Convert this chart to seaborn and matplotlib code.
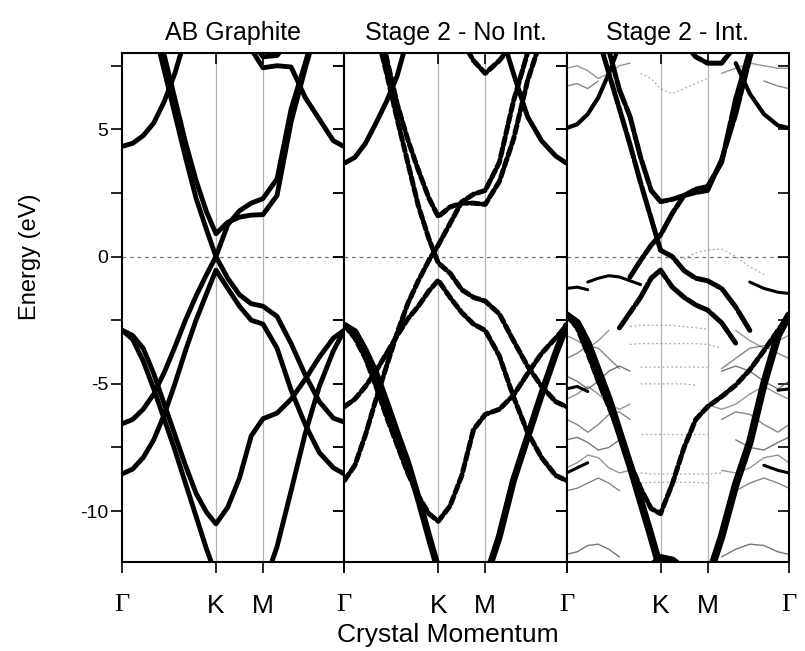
import numpy as np
import pandas as pd
import seaborn as sns
import matplotlib.pyplot as plt

nan = np.nan

# k-path sampling (units of pi/a): Gamma - K - M - Gamma
K_GRID = [0.0, 0.15, 0.3, 0.45, 0.6, 0.75, 0.9, 1.05, 1.2, 1.333,
          1.5, 1.667, 1.833, 2.0, 2.2, 2.4, 2.6, 2.8, 3.0, 3.155]
TICK_POS = [0.0, 1.333, 2.0, 3.155]
TICK_LABELS = ['Γ', 'K', 'M', 'Γ']
TITLES = ['AB Graphite', 'Stage 2 - No Int.', 'Stage 2 - Int.']

# ---- AB graphite (eV) ----
AB_PI_A = [-6.57, -6.4, -6.0, -5.4, -4.55, -3.55, -2.5, -1.55, -0.7, 0.0,
           -0.85, -1.5, -1.85, -1.95, -2.35, -3.42, -4.65, -5.7, -6.35, -6.5]
AB_PI_B = [-8.54, -8.35, -7.9, -7.2, -6.2, -5.0, -3.7, -2.5, -1.45, -0.53,
           -1.25, -1.95, -2.5, -2.65, -3.6, -5.25, -6.6, -7.7, -8.3, -8.54]
AB_PIS_A = [12.0, 11.5, 10.5, 9.0, 7.3, 5.6, 3.9, 2.3, 1.05, 0.0,
            1.25, 1.8, 2.1, 2.28, 3.05, 5.8, 7.6, 9.5, 11.0, 11.5]
AB_PIS_B = [12.5, 12.0, 11.0, 9.6, 7.9, 6.2, 4.5, 3.0, 1.75, 0.9,
            1.35, 1.55, 1.63, 1.65, 2.4, 5.3, 7.4, 9.3, 10.8, 11.3]
AB_PARA_L = [4.33, 4.45, 4.75, 5.25, 6.1, 7.2, 8.6, 10.0, nan, nan,
             nan, nan, nan, nan, nan, nan, nan, nan, nan, nan]
AB_PARA_R = [nan, nan, nan, nan, nan, nan, nan, nan, nan, nan,
             nan, 9.4, 8.15, 7.42, 7.5, 7.45, 6.25, 5.4, 4.55, 4.32]
AB_TOP = [nan, nan, nan, nan, nan, nan, nan, nan, nan, nan,
          nan, nan, 8.5, 7.85, 7.9, 8.6, nan, nan, nan, nan]
AB_SIG_A = [-2.89, -3.25, -4.1, -5.2, -6.4, -7.6, -8.9, -10.2, -11.5, -12.5,
            -13.2, -13.5, -13.4, -13.0, -11.4, -9.2, -6.95, -5.1, -3.7, -2.89]
AB_SIG_B = [-2.89, -3.1, -3.6, -4.6, -5.8, -7.0, -8.2, -9.3, -10.05, -10.5,
            -9.85, -8.7, -7.05, -6.37, -6.15, -5.6, -4.82, -3.95, -3.2, -2.89]

# ---- Stage 2, no interaction ----
P2_B1 = [12.0, 11.2, 10.2, 8.9, 7.2, 5.4, 3.7, 2.0, 0.7, -0.25,
         -0.65, -1.3, -1.6, -1.75, -2.25, -3.3, -4.3, -5.1, -5.7, -5.9]
P2_B2 = [-8.8, -8.2, -7.0, -5.6, -4.3, -3.0, -1.85, -0.95, -0.15, 0.45,
         1.3, 2.15, 2.45, 2.6, 3.7, 6.1, 8.0, 9.8, 11.0, 11.5]
P2_V_UP = [12.8, 12.2, 11.2, 9.9, 7.8, 6.0, 4.6, 3.4, 2.3, 1.57,
           1.95, 2.1, 2.1, 2.05, 2.95, 4.6, 6.9, 8.6, 10.0, 11.0]
P2_V_DN = [-5.9, -5.6, -5.1, -4.5, -3.8, -3.1, -2.45, -1.95, -1.35, -0.93,
           -1.6, -2.2, -2.65, -2.9, -3.9, -5.5, -6.9, -7.9, -8.6, -8.8]
P2_PARA_L = [3.67, 3.9, 4.45, 5.25, 6.1, 7.1, 8.6, 10.2, nan, nan,
             nan, nan, nan, nan, nan, nan, nan, nan, nan, nan]
P2_PARA_R = [nan, nan, nan, nan, nan, nan, nan, nan, nan, nan,
             nan, nan, nan, nan, 9.0, 7.2, 5.5, 4.55, 3.95, 3.67]
P2_TOP = [nan, nan, nan, nan, nan, nan, nan, nan, nan, nan,
          nan, 8.5, 7.7, 7.2, 7.7, 8.4, nan, nan, nan, nan]
P2_SIG_A = [-2.7, -2.95, -3.7, -4.6, -5.75, -6.95, -8.1, -9.5, -11.0, -12.3,
            -13.0, -13.3, -13.2, -12.7, -11.0, -8.8, -7.1, -5.4, -3.8, -2.7]
P2_SIG_B = [-2.7, -3.2, -4.0, -5.1, -6.3, -7.4, -8.5, -9.4, -10.1, -10.4,
            -9.8, -8.6, -6.8, -6.2, -6.0, -5.45, -4.6, -3.8, -3.2, -2.7]

# ---- Stage 2, with interaction ----
P3_B1 = [12.0, 11.2, 10.0, 8.6, 7.2, 5.8, 4.4, 2.9, 1.5, 0.25,
         0.0, -0.55, -0.85, -0.95, -1.25, -1.98, -2.9, nan, nan, nan]
P3_B2 = [nan, nan, nan, nan, nan, nan, -0.8, -0.15, 0.45, 0.85,
         1.7, 2.4, 2.65, 2.75, 3.7, 6.2, 8.1, 9.8, 11.0, 11.5]
P3_V_UP = [13.5, 12.8, 11.8, 10.0, 8.1, 6.55, 5.5, 3.9, 2.6, 2.16,
           2.25, 2.4, 2.52, 2.6, 3.8, 5.6, 7.8, 9.6, 10.8, 11.2]
P3_V_DN = [nan, nan, nan, nan, nan, -2.8, -2.2, -1.6, -0.85, -0.53,
           -1.2, -1.6, -1.9, -2.1, -2.6, -3.4, nan, nan, nan, nan]
P3_PARA_L = [5.05, 5.2, 5.6, 6.25, 7.2, 8.3, nan, nan, nan, nan,
             nan, nan, nan, nan, nan, nan, nan, nan, nan, nan]
P3_PARA_R = [nan, nan, nan, nan, nan, nan, nan, nan, nan, nan,
             nan, nan, nan, nan, nan, 7.6, 6.4, 5.6, 5.15, 5.05]
P3_TOP = [nan, nan, nan, nan, nan, nan, nan, nan, nan, nan,
          nan, 8.4, 7.85, 7.6, 7.6, 8.3, nan, nan, nan, nan]
P3_SIG_A = [-2.3, -2.6, -3.4, -4.5, -5.6, -6.9, -8.2, -9.6, -11.0, -12.3,
            -13.0, -13.3, -13.2, -12.7, -11.0, -8.95, -7.3, -5.0, -3.1, -2.3]
P3_SIG_B = [-2.3, -2.8, -3.8, -4.9, -5.9, -6.95, -8.1, -9.1, -9.9, -10.1,
            -8.93, -7.5, -6.4, -5.9, -5.5, -5.05, -4.45, -3.7, -2.9, -2.3]
P3_LOW = [nan, nan, nan, nan, nan, nan, nan, nan, -12.2, -11.85,
          -11.95, -12.3, nan, nan, nan, nan, nan, nan, nan, nan]
P3_DARK = [
    [nan, nan, -1.0, -0.85, -0.75, -0.8, -0.95, -1.1, nan, nan,
     nan, nan, nan, nan, nan, nan, nan, nan, nan, nan],
    [-1.25, -1.2, -1.3, nan, nan, nan, nan, nan, nan, nan,
     nan, nan, nan, nan, nan, nan, nan, nan, nan, nan],
    [nan, nan, nan, nan, nan, nan, nan, nan, nan, nan,
     nan, nan, nan, nan, nan, nan, -1.0, -1.25, -1.4, -1.45],
    [-5.2, -5.1, -5.3, nan, nan, nan, nan, nan, nan, nan,
     nan, nan, nan, nan, nan, nan, nan, nan, -5.25, -5.2],
    [-8.5, -8.3, -8.1, nan, nan, nan, nan, nan, nan, nan,
     nan, nan, nan, nan, nan, nan, nan, -8.2, -8.4, -8.5],
]

# faint intercalant-derived bands, wavy near Gamma
P3_EDGE = [
    [-3.1, -3.3, -3.6, -3.3, -2.9, nan, nan, nan, nan, nan,
     nan, nan, nan, nan, nan, -2.9, -3.3, -3.6, -3.3, -3.1],
    [-4.0, -3.8, -3.5, -3.6, -4.0, -4.4, nan, nan, nan, nan,
     nan, nan, nan, nan, -4.4, -4.0, -3.6, -3.5, -3.8, -4.0],
    [-4.7, -4.9, -5.2, -4.9, -4.5, -4.3, -4.5, nan, nan, nan,
     nan, nan, nan, nan, -4.5, -4.3, -4.5, -4.9, -5.2, -4.9],
    [-5.6, -5.4, -5.1, -5.4, -5.8, -6.0, -5.8, nan, nan, nan,
     nan, nan, nan, -5.8, -6.0, -5.8, -5.4, -5.1, -5.4, -5.6],
    [-6.4, -6.6, -6.9, -6.6, -6.2, -6.1, -6.4, nan, nan, nan,
     nan, nan, nan, nan, -6.4, -6.1, -6.2, -6.6, -6.9, -6.6],
    [-7.2, -7.1, -7.3, -7.6, -7.5, -7.2, nan, nan, nan, nan,
     nan, nan, nan, nan, nan, -7.2, -7.5, -7.6, -7.3, -7.1],
    [-8.3, -8.1, -7.8, -7.9, -8.3, -8.5, -8.4, nan, nan, nan,
     nan, nan, nan, nan, -8.4, -8.5, -8.3, -7.9, -7.8, -8.1],
    [-9.2, -9.1, -8.9, -8.7, -8.9, -9.2, nan, nan, nan, nan,
     nan, nan, nan, nan, nan, -9.2, -8.9, -8.7, -8.9, -9.1],
    [-11.7, -11.6, -11.35, -11.3, -11.5, -11.8, nan, nan, nan, nan,
     nan, nan, nan, nan, -11.8, -11.5, -11.3, -11.35, -11.6, -11.7],
    [7.4, 7.5, 7.3, 7.0, 7.2, 7.5, 7.6, nan, nan, nan,
     nan, nan, nan, nan, 7.2, 7.4, 7.6, 7.5, 7.4, 7.4],
    [6.7, 6.8, 6.6, 6.9, nan, nan, nan, nan, nan, nan,
     nan, nan, nan, nan, nan, nan, nan, 6.9, 6.7, 6.6],
]
# faint flat bands across the K-M region
P3_FLAT = [
    [nan, nan, nan, nan, nan, nan, -2.75, -2.7, -2.7, -2.7,
     -2.7, -2.75, -2.8, -2.85, nan, nan, nan, nan, nan, nan],
    [nan, nan, nan, nan, nan, nan, -3.45, -3.42, -3.42, -3.42,
     -3.42, -3.42, -3.42, -3.45, -3.6, nan, nan, nan, nan, nan],
    [nan, nan, nan, nan, nan, nan, nan, -4.35, -4.34, -4.34,
     -4.34, -4.34, -4.34, -4.35, nan, nan, nan, nan, nan, nan],
    [nan, nan, nan, nan, nan, nan, nan, -5.0, -5.0, -5.0,
     -5.0, -5.0, -5.05, nan, nan, nan, nan, nan, nan, nan],
    [nan, nan, nan, nan, nan, nan, nan, -6.96, -6.96, -6.96,
     -6.96, -6.96, -6.96, -6.96, nan, nan, nan, nan, nan, nan],
    [nan, nan, nan, nan, nan, nan, nan, -8.5, -8.54, -8.54,
     -8.54, -8.54, -8.54, -8.54, -8.5, nan, nan, nan, nan, nan],
    [nan, nan, nan, nan, nan, nan, nan, -8.9, -8.87, -8.87,
     -8.87, -8.87, -8.87, -8.9, nan, nan, nan, nan, nan, nan],
    [nan, nan, nan, nan, nan, nan, nan, 7.2, 7.0, 6.6,
     6.4, 6.6, 6.8, 7.0, nan, nan, nan, nan, nan, nan],
    [nan, nan, nan, nan, nan, nan, nan, nan, nan, nan,
     nan, -0.1, 0.15, 0.25, 0.3, 0.0, -0.4, -0.7, nan, nan],
]


def band_frame(bands):
    """Long table of (unit, k, E); nan breaks a band into separate units."""
    rows = []
    unit = 0
    for vals in bands:
        gap = True
        for k, e in zip(K_GRID, vals):
            if np.isnan(e):
                gap = True
                continue
            if gap:
                unit += 1
                gap = False
            rows.append((unit, k, e))
    return pd.DataFrame(rows, columns=['unit', 'k', 'E'])


def draw(ax, bands, **kw):
    df = band_frame(bands)
    sns.lineplot(data=df, x='k', y='E', units='unit', estimator=None,
                 sort=False, legend=False, ax=ax, **kw)


sns.set_theme(style='ticks')
plt.rcParams['font.family'] = ['Liberation Sans', 'DejaVu Sans']
plt.rcParams['axes.unicode_minus'] = False
for key in ['text.color', 'axes.labelcolor', 'xtick.color', 'ytick.color', 'axes.edgecolor']:
    plt.rcParams[key] = 'black'

fig, axes = plt.subplots(1, 3, figsize=(8.05, 6.51), dpi=100, sharey=True)
fig.subplots_adjust(left=0.1516, right=0.980, top=0.9186, bottom=0.1367, wspace=0)

solid = dict(color='black', lw=3.5, solid_capstyle='round')
dotted = dict(color='black', lw=3.6, linestyle=(0, (1.6, 0.7)), dash_capstyle='round')
broken = dict(color='black', lw=3.6, linestyle=(0, (5, 0.6)), dash_capstyle='round')

# panel 1
ax = axes[0]
draw(ax, [AB_PI_A, AB_PI_B, AB_PIS_A, AB_PIS_B, AB_PARA_L, AB_PARA_R,
          AB_TOP, AB_SIG_A, AB_SIG_B], **solid)

# panel 2
ax = axes[1]
draw(ax, [P2_B1, P2_B2, P2_V_UP, P2_V_DN, P2_TOP, P2_SIG_B], **dotted)
draw(ax, [P2_PARA_L, P2_PARA_R], **solid)
draw(ax, [P2_SIG_A], color='black', lw=5.0)

# panel 3
ax = axes[2]
draw(ax, P3_FLAT, color='0.45', lw=0.9, alpha=0.6, linestyle=(0, (1.5, 2)))
for i, vals in enumerate(P3_EDGE):
    draw(ax, [vals], color='0.25', lw=1.0, alpha=0.55 + 0.08 * (i % 3))
draw(ax, P3_DARK, color='black', lw=2.2)
draw(ax, [P3_B1, P3_B2, P3_V_UP, P3_V_DN, P3_TOP], **broken)
draw(ax, [P3_SIG_B], **dotted)
draw(ax, [P3_PARA_L, P3_PARA_R], color='black', lw=3.0)
draw(ax, [P3_SIG_A], color='black', lw=5.5)
draw(ax, [P3_LOW], color='black', lw=6)

for i, ax in enumerate(axes):
    ax.set_xlim(TICK_POS[0], TICK_POS[-1])
    ax.set_ylim(-12, 8)
    ax.axhline(0, color='0.45', lw=0.9, ls=(0, (3, 3)), zorder=0)
    for x in TICK_POS[1:3]:
        ax.axvline(x, color='0.7', lw=0.9, zorder=0)
    ax.set_xticks(TICK_POS)
    labels = TICK_LABELS if i == 2 else TICK_LABELS[:3] + ['']
    ax.set_xticklabels(labels)
    ax.set_yticks([-10, -5, 0, 5])
    ax.set_yticks([-7.5, -2.5, 2.5, 7.5], minor=True)
    ax.tick_params(which='both', direction='out', length=8, width=1.2,
                   colors='black', labelsize=14, pad=2)
    ax.tick_params(axis='x', labelsize=19, pad=15)
    for t in ax.get_xticklabels():
        if t.get_text() == 'Γ':
            t.set_family(['Liberation Serif', 'DejaVu Serif'])
    ax.set_xlabel('')
    ax.set_ylabel('')
    for s in ax.spines.values():
        s.set_visible(True)
        s.set_linewidth(1.5)
        s.set_color('black')
    top = ax.secondary_xaxis('top')
    top.set_xticks(TICK_POS)
    top.tick_params(direction='in', length=8, width=1.2, labeltop=False)
    right = ax.secondary_yaxis('right')
    right.set_yticks([-10, -7.5, -5, -2.5, 0, 2.5, 5, 7.5])
    right.tick_params(direction='in', length=8, width=1.2, labelright=False)
    cx = (ax.get_position().x0 + ax.get_position().x1) / 2
    fig.text(cx, 0.949, TITLES[i], ha='center', va='center', fontsize=18)

fig.text(0.5565, 0.024, 'Crystal Momentum', ha='center', va='center', fontsize=19)
fig.text(0.037, 0.605, 'Energy (eV)', ha='center', va='center',
         rotation=90, fontsize=17)

fig.savefig('out.png', dpi=100, facecolor='white')
